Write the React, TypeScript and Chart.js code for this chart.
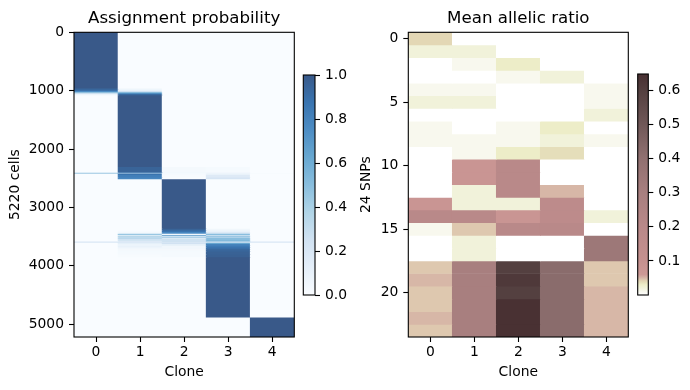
import React, { useEffect, useRef } from 'react';
import { Chart, registerables } from 'chart.js';

Chart.register(...registerables);

const FONT = '"DejaVu Sans", sans-serif';
Chart.defaults.font.family = FONT;
Chart.defaults.color = '#000';

// ---------- data ----------
const CLONES = ['0', '1', '2', '3', '4'];

// Left panel: cells (sorted) grouped into row ranges, assignment probability per clone
const cellSegEdges = [0, 950, 975, 1000, 1015, 1030, 1045, 1060, 1075, 2300, 2390, 2400, 2415, 2440, 2480, 2510, 3360, 3390, 3420, 3445, 3465, 3480, 3495, 3510, 3525, 3545, 3560, 3580, 3600, 3620, 3650, 3680, 3710, 3750, 3800, 3850, 4880, 5220];
const probClone0 = [1, 0.97, 0.9, 0.75, 0.55, 0.3, 0.12, 0.04, 0, 0, 0, 0.6, 0, 0, 0, 0, 0, 0, 0, 0, 0, 0, 0, 0, 0, 0, 0, 0.2, 0, 0, 0, 0, 0, 0, 0, 0, 0];
const probClone1 = [0, 0.03, 0.1, 0.25, 0.45, 0.7, 0.88, 0.96, 1, 0.95, 0.9, 0.3, 0.88, 0.82, 0.78, 0, 0, 0.02, 0.05, 0.45, 0.1, 0.4, 0.15, 0.45, 0.2, 0.3, 0.15, 0.2, 0.12, 0.08, 0.1, 0.05, 0.03, 0.02, 0.01, 0, 0];
const probClone2 = [0, 0, 0, 0, 0, 0, 0, 0, 0, 0.03, 0.04, 0.03, 0.02, 0.01, 0, 1, 0.95, 0.88, 0.75, 0.05, 0.7, 0.1, 0.6, 0.05, 0.3, 0.2, 0.3, 0.2, 0.25, 0.12, 0.05, 0.05, 0.03, 0.02, 0.02, 0, 0];
const probClone3 = [0, 0, 0, 0, 0, 0, 0, 0, 0, 0.02, 0.06, 0.05, 0.1, 0.17, 0.22, 0, 0.05, 0.1, 0.2, 0.5, 0.2, 0.5, 0.25, 0.5, 0.5, 0.5, 0.55, 0.2, 0.63, 0.8, 0.85, 0.9, 0.94, 0.96, 0.97, 1, 0];
const probClone4 = [0, 0, 0, 0, 0, 0, 0, 0, 0, 0, 0, 0.02, 0, 0, 0, 0, 0, 0, 0, 0, 0, 0, 0, 0, 0, 0, 0, 0.2, 0, 0, 0, 0, 0, 0, 0, 0, 1];
const cellTicks = [0, 1000, 2000, 3000, 4000, 5000];
const probTicks = [0, 0.2, 0.4, 0.6, 0.8, 1.0];

// Right panel: mean allelic ratio, 24 SNPs per clone
const ratioClone0 = [0.04, 0.02, 0, 0, 0.01, 0.02, 0, 0.01, 0.01, 0, 0, 0, 0, 0.08, 0.2, 0.01, 0, 0, 0.045, 0.05, 0.045, 0.045, 0.05, 0.045];
const ratioClone1 = [0, 0.02, 0.01, 0, 0.01, 0.02, 0, 0, 0.01, 0.01, 0.08, 0.08, 0.02, 0.02, 0.2, 0.045, 0.02, 0.02, 0.3, 0.3, 0.3, 0.3, 0.3, 0.3];
const ratioClone2 = [0, 0, 0.03, 0.01, 0, 0, 0, 0.01, 0.01, 0.03, 0.2, 0.2, 0.2, 0.02, 0.08, 0.2, 0, 0, 0.6, 0.62, 0.6, 0.645, 0.645, 0.645];
const ratioClone3 = [0, 0, 0, 0.02, 0, 0, 0, 0.03, 0.02, 0.037, 0, 0, 0.05, 0.17, 0.17, 0.2, 0, 0, 0.42, 0.42, 0.42, 0.42, 0.42, 0.42];
const ratioClone4 = [0, 0, 0, 0, 0.01, 0.01, 0.02, 0, 0.01, 0, 0, 0, 0, 0, 0.02, 0, 0.35, 0.35, 0.045, 0.045, 0.05, 0.05, 0.05, 0.05];
const snpTicks = [0, 5, 10, 15, 20];
const ratioTicks = [0.1, 0.2, 0.3, 0.4, 0.5, 0.6];
const RATIO_MAX = 0.649;

// ---------- colour maps ----------
const BLUES = [[247, 251, 255], [222, 235, 247], [198, 219, 239], [158, 202, 225], [107, 174, 214], [66, 146, 198], [33, 113, 181], [8, 81, 156], [8, 48, 107]];
const BLUE_ALPHA = 0.8;
function blues(v: number) {
  const t = Math.max(0, Math.min(1, v)) * 8;
  const i = Math.min(7, Math.floor(t));
  const f = t - i;
  const c = BLUES[i].map((a, k) => a + (BLUES[i + 1][k] - a) * f).map((x) => Math.round(x * BLUE_ALPHA + 255 * (1 - BLUE_ALPHA)));
  return `rgb(${c[0]},${c[1]},${c[2]})`;
}
const BLUE_STOPS = BLUES.map((_, i) => i / 8);

const RATIO_STOPS = [0, 0.01, 0.02, 0.03, 0.037, 0.042, 0.046, 0.052, 0.06, 0.1, 0.2, 0.3, 0.4, 0.5, 0.6, 0.649];
const RATIO_COLORS = [[255, 255, 255], [248, 248, 238], [241, 242, 218], [237, 237, 200], [229, 222, 186], [226, 211, 178], [220, 196, 174], [212, 176, 164], [205, 153, 150], [197, 145, 143], [185, 137, 137], [168, 127, 127], [145, 113, 113], [112, 88, 88], [84, 64, 64], [72, 48, 50]];
function ratioColor(v: number) {
  if (v <= RATIO_STOPS[0]) return rgbStr(RATIO_COLORS[0]);
  for (let i = 1; i < RATIO_STOPS.length; i++) {
    if (v <= RATIO_STOPS[i]) {
      const f = (v - RATIO_STOPS[i - 1]) / (RATIO_STOPS[i] - RATIO_STOPS[i - 1]);
      return rgbStr(RATIO_COLORS[i - 1].map((a, k) => a + (RATIO_COLORS[i][k] - a) * f));
    }
  }
  return rgbStr(RATIO_COLORS[RATIO_COLORS.length - 1]);
}
function rgbStr(c: number[]) {
  return `rgb(${Math.round(c[0])},${Math.round(c[1])},${Math.round(c[2])})`;
}

// ---------- shared options ----------
const TICK_FONT = { family: FONT, size: 13.89 };
const TITLE_FONT = { family: FONT, size: 16.67, weight: 'normal' as const };

const framePlugin = {
  id: 'frame',
  afterDatasetsDraw(chart: any) {
    const { ctx, chartArea: a } = chart;
    ctx.save();
    ctx.strokeStyle = '#000';
    ctx.lineWidth = 1.1;
    ctx.strokeRect(a.left, a.top, a.right - a.left, a.bottom - a.top);
    ctx.restore();
  },
};

const tickGrid = { drawOnChartArea: false, offset: false, tickLength: 5, tickColor: '#000', tickWidth: 1.1 };

function heatmapConfig(opts: {
  title: string; yTitle: string; yMin: number; yMax: number; yTicks: number[];
  datasets: any[]; yWidth: number; padRight: number; yTitlePad: number;
}) {
  return {
    type: 'bar',
    data: { labels: CLONES, datasets: opts.datasets },
    options: {
      responsive: false,
      animation: false,
      events: [],
      layout: { padding: { left: 0, right: opts.padRight, top: 0, bottom: 0 } },
      plugins: {
        legend: { display: false },
        tooltip: { enabled: false },
        title: { display: true, text: opts.title, fullSize: false, font: TITLE_FONT, color: '#000', padding: { top: 8.2, bottom: 4.1 } },
      },
      scales: {
        x: {
          type: 'category',
          offset: true,
          grid: tickGrid,
          border: { display: false },
          ticks: { font: TICK_FONT, color: '#000', padding: 2, maxRotation: 0 },
          title: { display: true, text: 'Clone', font: TICK_FONT, color: '#000', padding: { top: 0, bottom: 9 } },
          afterFit: (s: any) => { s.height = 53; },
        },
        y: {
          type: 'linear',
          reverse: true,
          min: opts.yMin,
          max: opts.yMax,
          afterBuildTicks: (s: any) => { s.ticks = opts.yTicks.map((v) => ({ value: v })); },
          grid: tickGrid,
          border: { display: false },
          ticks: { font: TICK_FONT, color: '#000', padding: 5, callback: (v: any) => String(v) },
          title: { display: true, text: opts.yTitle, font: TICK_FONT, color: '#000', padding: { top: opts.yTitlePad, bottom: 0 } },
          afterFit: (s: any) => { s.width = opts.yWidth; },
        },
      },
    },
    plugins: [framePlugin],
  };
}

function colorbarConfig(opts: {
  min: number; max: number; ticks: number[]; stops: number[]; colors: string[];
  padLeft: number; padTop: number; padBottom: number; yWidth: number;
}) {
  return {
    type: 'bar',
    data: {
      labels: ['scale'],
      datasets: [{
        data: [[opts.min, opts.max]],
        barPercentage: 1,
        categoryPercentage: 1,
        borderWidth: 0,
        backgroundColor: (c: any) => {
          const chart = c.chart;
          const y = chart.scales && chart.scales.y;
          if (!chart.chartArea || !y) return opts.colors[0];
          const p0 = y.getPixelForValue(opts.min);
          const p1 = y.getPixelForValue(opts.max);
          const g = chart.ctx.createLinearGradient(0, p0, 0, p1);
          opts.stops.forEach((s, i) => g.addColorStop(Math.min(1, (s - opts.min) / (opts.max - opts.min)), opts.colors[i]));
          return g;
        },
      }],
    },
    options: {
      responsive: false,
      animation: false,
      events: [],
      layout: { padding: { left: opts.padLeft, right: 0, top: opts.padTop, bottom: opts.padBottom } },
      plugins: { legend: { display: false }, tooltip: { enabled: false } },
      scales: {
        x: { type: 'category', display: false, offset: true },
        y: {
          type: 'linear',
          position: 'right',
          min: opts.min,
          max: opts.max,
          afterBuildTicks: (s: any) => { s.ticks = opts.ticks.map((v) => ({ value: v })); },
          grid: tickGrid,
          border: { display: false },
          ticks: { font: TICK_FONT, color: '#000', padding: 5, callback: (v: any) => Number(v).toFixed(1) },
          afterFit: (s: any) => { s.width = opts.yWidth; },
        },
      },
    },
    plugins: [framePlugin],
  };
}

// ---------- chart builders ----------
function leftHeatmap() {
  const cols = [probClone0, probClone1, probClone2, probClone3, probClone4];
  const datasets = probClone0.map((_, i) => ({
    data: CLONES.map(() => [cellSegEdges[i] - 0.5, cellSegEdges[i + 1] - 0.5]),
    backgroundColor: cols.map((col) => blues(col[i])),
    borderWidth: 0,
    barPercentage: 1,
    categoryPercentage: 1,
    grouped: false,
  }));
  return heatmapConfig({
    title: 'Assignment probability', yTitle: '5220 cells', yMin: -0.5, yMax: 5219.5, yTicks: cellTicks,
    datasets, yWidth: 74, padRight: 5.7, yTitlePad: 6.8,
  });
}

function rightHeatmap() {
  const cols = [ratioClone0, ratioClone1, ratioClone2, ratioClone3, ratioClone4];
  const datasets = ratioClone0.map((_, r) => ({
    data: CLONES.map(() => [r - 0.5, r + 0.5]),
    backgroundColor: cols.map((col) => ratioColor(col[r])),
    borderWidth: 0,
    barPercentage: 1,
    categoryPercentage: 1,
    grouped: false,
  }));
  return heatmapConfig({
    title: 'Mean allelic ratio', yTitle: '24 SNPs', yMin: -0.5, yMax: 23.5, yTicks: snpTicks,
    datasets, yWidth: 63.3, padRight: 6.7, yTitlePad: 13.4,
  });
}

function leftColorbar() {
  return colorbarConfig({
    min: 0, max: 1, ticks: probTicks, stops: BLUE_STOPS, colors: BLUE_STOPS.map((s) => blues(s)),
    padLeft: 3.3, padTop: 75, padBottom: 95, yWidth: 40,
  });
}

function rightColorbar() {
  return colorbarConfig({
    min: 0, max: RATIO_MAX, ticks: ratioTicks, stops: RATIO_STOPS, colors: RATIO_COLORS.map(rgbStr),
    padLeft: 7.7, padTop: 74, padBottom: 95, yWidth: 41.7,
  });
}

function ChartCanvas({ left, width, make }: { left: number; width: number; make: () => any }) {
  const ref = useRef<HTMLCanvasElement>(null);
  useEffect(() => {
    const chart = new Chart(ref.current as HTMLCanvasElement, make());
    return () => chart.destroy();
  }, []);
  return (
    <canvas
      ref={ref}
      width={width}
      height={390}
      style={{ position: 'absolute', left, top: 0, width, height: 390 }}
    />
  );
}

export default function App() {
  return (
    <div style={{ position: 'fixed', left: 0, top: 0, width: 690, height: 390, background: '#fff', overflow: 'hidden' }}>
      <ChartCanvas left={0} width={300} make={leftHeatmap} />
      <ChartCanvas left={300} width={55} make={leftColorbar} />
      <ChartCanvas left={345} width={290} make={rightHeatmap} />
      <ChartCanvas left={630} width={60} make={rightColorbar} />
    </div>
  );
}
